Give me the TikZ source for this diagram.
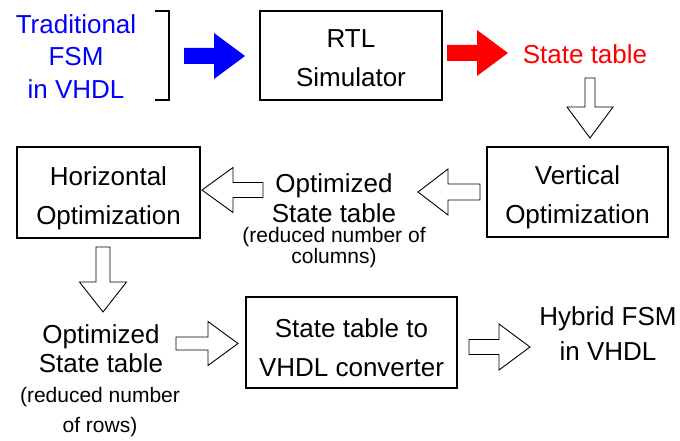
\documentclass[tikz,border=0pt]{standalone}
\usepackage{fontspec}
\setmainfont{Liberation Sans}
\newcommand\hs[1]{\rule{0pt}{#1pt}}
\newcommand\dps{\rule[-6pt]{0pt}{6pt}}
\newcommand\blockarrow[5]{%
  \path[#1] (0,-#3) -- ({#2-#5},-#3) -- ({#2-#5},-#4) -- (#2,0) -- ({#2-#5},#4) -- ({#2-#5},#3) -- (0,#3) -- cycle;}
\begin{document}
\begin{tikzpicture}[x=1pt,y=-1pt,
  box/.style={draw, line width=1.2pt, inner sep=0pt, align=center,
    font=\fontsize{26}{39}\selectfont},
  ftext/.style={inner sep=0pt, anchor=north, align=center},
  hollow/.style={draw=black, line width=0.9pt, fill=white, line join=miter},
]
\useasboundingbox[fill=white] (0,0) rectangle (680,441);

% boxes
\node[box, minimum width=182pt, minimum height=89pt] (rtl) at (351,55.5)
  {\hs{30}RTL\\Simulator\dps};
\node[box, minimum width=181pt, minimum height=90pt] (vert) at (577.5,192)
  {\hs{30}Vertical\\Optimization\dps};
\node[box, minimum width=183pt, minimum height=91pt] (horiz) at (108.5,192.5)
  {\hs{30}Horizontal\\Optimization\dps};
\node[box, minimum width=211pt, minimum height=91pt] (conv) at (351.5,342.5)
  {\hs{34}State table to\\VHDL converter\dps};

% free texts
\node[ftext, text=blue, font=\fontsize{26}{32.5}\selectfont] (trad) at (76,13)
  {\hs{20}Traditional\\FSM\\in VHDL};
\node[ftext, text=red, font=\fontsize{26}{30}\selectfont] (stt) at (585,43)
  {\hs{20}State table};
\node[ftext, font=\fontsize{26}{30}\selectfont] (mid) at (334,172)
  {\hs{20}Optimized\\State table};
\node[ftext, font=\fontsize{21}{21}\selectfont] (midnote) at (334,222)
  {\hs{20}(reduced number of\\columns)};
\node[ftext, font=\fontsize{26}{29}\selectfont] (bl) at (101,323)
  {\hs{20}Optimized\\State table};
\node[ftext, font=\fontsize{21}{30}\selectfont] (blnote) at (100,382)
  {\hs{20}(reduced number\\of rows)};
\node[ftext, font=\fontsize{26}{35}\selectfont] (hyb) at (608,305)
  {\hs{20}Hybrid FSM\\in VHDL};

% bracket
\coordinate (bt) at (155,11);
\coordinate (bb) at (155,100);
\draw[line width=1.4pt] (bt) -- ++(14,0) |- (bb);

% solid arrows
\blockarrow{fill=blue, shift={(184,56)}}{61}{8}{23}{31}
\blockarrow{fill=red, shift={(447,53)}}{61}{8}{23}{31}

% hollow arrows
\blockarrow{hollow, shift={(590,78)}, rotate=-90}{60}{5}{23}{31}
\blockarrow{hollow, shift={(480,192)}, rotate=180}{62}{8}{23}{30}
\blockarrow{hollow, shift={(263,190)}, rotate=180}{61}{7.5}{22.5}{31}
\blockarrow{hollow, shift={(103,247)}, rotate=-90}{65}{7}{23.5}{30}
\blockarrow{hollow, shift={(176,343.5)}}{62}{6.5}{22}{30}
\blockarrow{hollow, shift={(469,347)}}{61}{7.5}{23}{31}
\end{tikzpicture}
\end{document}
